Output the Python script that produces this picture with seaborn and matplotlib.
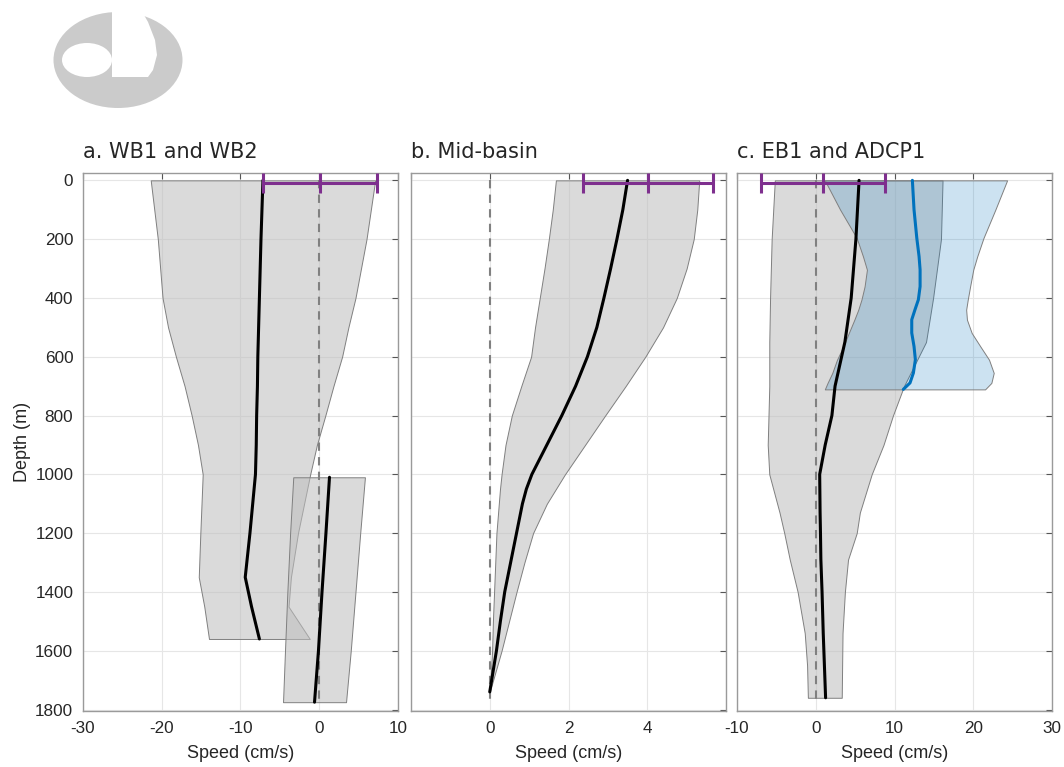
import numpy as np
import matplotlib
matplotlib.use('Agg')
import matplotlib.pyplot as plt
from matplotlib.patches import Ellipse, Polygon
import seaborn as sns

# ---- panel a: WB1 (upper) and WB2 (lower) ----
wb1_depth = [0, 200, 400, 500, 600, 700, 800, 900, 1000, 1200, 1350, 1450, 1560]
wb1_left  = [-21.4, -20.5, -19.9, -19.2, -18.2, -17.1, -16.2, -15.4, -14.8, -15.1, -15.3, -14.6, -14.0]
wb1_mean  = [-7.15, -7.4, -7.6, -7.7, -7.8, -7.85, -7.95, -8.0, -8.1, -8.8, -9.4, -8.6, -7.6]
wb1_right = [7.1, 6.0, 4.6, 3.7, 2.9, 1.8, 0.77, -0.3, -1.15, -2.7, -3.6, -3.9, -1.2]

wb2_depth = [1010, 1200, 1400, 1600, 1775]
wb2_left  = [-3.3, -3.7, -4.05, -4.35, -4.6]
wb2_mean  = [1.3, 0.85, 0.35, -0.1, -0.6]
wb2_right = [5.8, 5.2, 4.6, 4.0, 3.4]

# ---- panel b: mid-basin ----
mid_depth = [0, 100, 200, 300, 400, 500, 600, 700, 800, 900, 1000, 1050, 1100, 1200, 1300, 1400, 1500, 1600, 1740]
mid_left  = [1.68, 1.6, 1.5, 1.39, 1.27, 1.15, 1.05, 0.8, 0.56, 0.4, 0.3, 0.26, 0.23, 0.17, 0.14, 0.11, 0.08, 0.06, 0.0]
mid_mean  = [3.5, 3.38, 3.23, 3.07, 2.9, 2.72, 2.48, 2.18, 1.83, 1.45, 1.07, 0.93, 0.83, 0.68, 0.53, 0.38, 0.27, 0.17, 0.0]
mid_right = [5.32, 5.27, 5.18, 5.0, 4.75, 4.4, 3.95, 3.45, 2.93, 2.42, 1.91, 1.68, 1.45, 1.10, 0.88, 0.68, 0.49, 0.30, 0.0]

# ---- panel c: EB1 and ADCP1 ----
eb1_depth = [0, 200, 400, 550, 700, 800, 900, 1000, 1130, 1200, 1290, 1400, 1540, 1650, 1760]
eb1_left  = [-5.2, -5.6, -5.8, -5.9, -5.9, -6.0, -6.1, -5.9, -4.6, -4.0, -3.3, -2.3, -1.4, -1.1, -1.0]
eb1_mean  = [5.5, 5.1, 4.5, 3.7, 2.45, 2.05, 1.2, 0.5, 0.55, 0.6, 0.65, 0.8, 0.95, 1.1, 1.25]
eb1_right = [16.1, 15.9, 14.9, 14.0, 11.2, 9.8, 8.6, 7.1, 5.6, 5.2, 4.1, 3.7, 3.4, 3.35, 3.3]

adcp_depth = [0, 100, 196, 259, 304, 361, 406, 440, 474, 519, 565, 610, 655, 689, 711]
adcp_left  = [1.15, 3.1, 5.2, 6.0, 6.5, 6.2, 5.8, 5.4, 4.9, 4.2, 3.5, 2.7, 2.1, 1.5, 1.15]
adcp_mean  = [12.27, 12.48, 12.83, 13.12, 13.25, 13.25, 13.03, 12.6, 12.19, 12.19, 12.48, 12.65, 12.4, 11.97, 11.12]
adcp_right = [24.3, 22.8, 21.3, 20.5, 20.0, 19.6, 19.3, 19.1, 19.2, 19.8, 20.9, 22.0, 22.6, 22.3, 21.5]

# surface error bars (centre, half width)
err_center = [0.1, 4.03, 0.9]
err_half   = [7.2, 1.65, 7.9]
err_depth  = 8

titles = ['a. WB1 and WB2', 'b. Mid-basin', 'c. EB1 and ADCP1']
xticks = [[-30, -20, -10, 0, 10], [-2, 0, 2, 4, 6], [-10, 0, 10, 20, 30]]
xticklabels = [['-30', '-20', '-10', '0', '10'], ['', '0', '2', '4', ''], ['-10', '0', '10', '20', '30']]
yticks = [0, 200, 400, 600, 800, 1000, 1200, 1400, 1600, 1800]

GRAY_FACE = (0.75, 0.75, 0.75, 0.57)
BLUE_FACE = (0.0, 0.447, 0.741, 0.2)
PURPLE = '#7E2F8E'
BLUE = '#0072BD'

sns.set_theme(style='whitegrid')
plt.rcParams['font.family'] = ['Liberation Sans', 'DejaVu Sans']
plt.rcParams['axes.edgecolor'] = '#9a9a9a'
plt.rcParams['grid.color'] = '#e6e6e6'
plt.rcParams['text.color'] = '#262626'
plt.rcParams['xtick.color'] = '#555555'
plt.rcParams['ytick.color'] = '#555555'
plt.rcParams['xtick.labelcolor'] = '#262626'
plt.rcParams['ytick.labelcolor'] = '#262626'

W, H = 1064, 767
fig = plt.figure(figsize=(W / 100, H / 100), dpi=100)


def px_axes(l, t, r, b):
    return fig.add_axes([l / W, 1 - b / H, (r - l) / W, (b - t) / H])


# faint logo top left
lax = fig.add_axes([0, 0, 1, 1], zorder=-5)
lax.set_xlim(0, W)
lax.set_ylim(H, 0)
lax.axis('off')
lax.add_patch(Ellipse((118, 60), 129, 96, color='#cbcbcb', lw=0))
lax.add_patch(Ellipse((87, 60), 50, 34, color='white', lw=0))
lax.add_patch(Polygon([(112, 8), (140, 8), (148, 22), (155, 40), (157, 55), (153, 70), (148, 77), (112, 77)],
                      closed=True, color='white', lw=0))

axes = [px_axes(83, 173, 398, 711), px_axes(411, 173, 726, 711), px_axes(737, 173, 1052, 711)]


def band(ax, depth, left, right, face):
    ax.fill_betweenx(depth, left, right, facecolor=face, edgecolor='#7f7f7f', linewidth=0.7, zorder=1)


def mean_line(ax, depth, mean, color):
    sns.lineplot(x=mean, y=depth, sort=False, estimator=None, color=color, linewidth=2.2, ax=ax, zorder=3)


band(axes[0], wb1_depth, wb1_left, wb1_right, GRAY_FACE)
band(axes[0], wb2_depth, wb2_left, wb2_right, GRAY_FACE)
band(axes[1], mid_depth, mid_left, mid_right, GRAY_FACE)
band(axes[2], eb1_depth, eb1_left, eb1_right, GRAY_FACE)
band(axes[2], adcp_depth, adcp_left, adcp_right, BLUE_FACE)

for ax in axes:
    ax.vlines(0, 0, 1780, colors='#808080', linestyles=(0, (4, 3)), linewidth=1.5, zorder=2)

mean_line(axes[0], wb1_depth, wb1_mean, 'black')
mean_line(axes[0], wb2_depth, wb2_mean, 'black')
mean_line(axes[1], mid_depth, mid_mean, 'black')
mean_line(axes[2], eb1_depth, eb1_mean, 'black')
mean_line(axes[2], adcp_depth, adcp_mean, BLUE)

for i, ax in enumerate(axes):
    ax.errorbar([err_center[i]], [err_depth], xerr=[err_half[i]], fmt='none', ecolor=PURPLE,
                elinewidth=2.2, capsize=7, capthick=2.2, zorder=5, clip_on=False)
    ax.plot([err_center[i]], [err_depth], marker='|', markersize=14, markeredgewidth=2.2,
            color=PURPLE, zorder=5, clip_on=False)

    ax.set_xlim(xticks[i][0], xticks[i][-1])
    ax.set_ylim(1805, -25)
    ax.set_xticks(xticks[i])
    ax.set_xticklabels(xticklabels[i])
    ax.set_yticks(yticks)
    if i == 0:
        ax.set_yticklabels([str(v) for v in yticks])
        ax.set_ylabel('Depth (m)', fontsize=13, labelpad=3)
    else:
        ax.set_yticklabels([])
        ax.set_ylabel('')
    ax.set_xlabel('Speed (cm/s)', fontsize=13, labelpad=7)
    ax.tick_params(direction='in', top=True, right=True, length=4, width=0.8,
                   labelsize=12.3, pad=7)
    ax.grid(True, linewidth=0.8)
    for sp in ax.spines.values():
        sp.set_linewidth(1.0)
    ax.set_title(titles[i], loc='left', fontsize=15, pad=11, family=['DejaVu Sans'])

fig.savefig('out.png', dpi=100)
